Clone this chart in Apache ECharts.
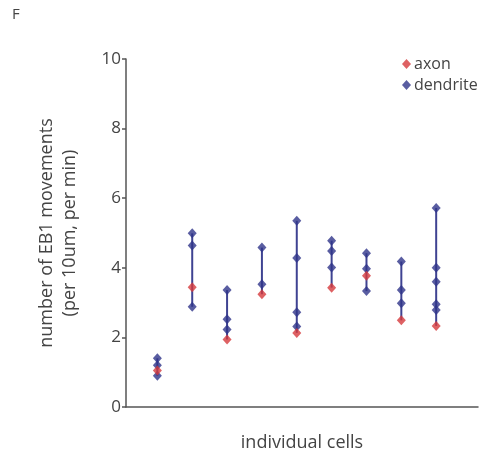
<!DOCTYPE html>
<html>
<head>
<meta charset="utf-8">
<style>
  html, body { margin: 0; padding: 0; background: #fff; }
  #chart { width: 480px; height: 459px; }
</style>
<script src="https://cdn.jsdelivr.net/npm/echarts@6/dist/echarts.min.js"></script>
</head>
<body>
<div id="chart"></div>
<script>
// cells 1..9, values
var cells = [1, 2, 3, 4, 5, 6, 7, 8, 9];
var dendrite = [
    [1.4, 1.2, 0.9],
    [4.99, 4.64, 2.88],
    [3.36, 2.52, 2.23],
    [4.58, 3.53],
    [5.35, 4.28, 2.72, 2.31],
    [4.78, 4.48, 4.01],
    [4.42, 3.97, 3.33],
    [4.18, 3.36, 2.98],
    [5.72, 4.0, 3.6, 2.95, 2.79]
];
var axon = [1.05, 3.44, 1.94, 3.24, 2.13, 3.43, 3.77, 2.49, 2.33];
var yTicks = [0, 2, 4, 6, 8, 10];

var red = '#d63a3c', navy = '#30348a', lineCol = '#3f4392';
var font = 'Open Sans';

var dendPts = [], axonPts = [], ranges = [];
cells.forEach(function (c, i) {
    dendrite[i].forEach(function (v) { dendPts.push([c, v]); });
    axonPts.push([c, axon[i]]);
    var all = dendrite[i].concat([axon[i]]);
    ranges.push([c, Math.min.apply(null, all), Math.max.apply(null, all)]);
});

var chart = echarts.init(document.getElementById('chart'));
chart.setOption({
    animation: false,
    grid: {left: 126, right: 2, top: 59, bottom: 52},
    graphic: [{
        type: 'text', left: 12, top: 7,
        style: {text: 'F', font: '15px "' + font + '"', fill: '#444'}
    }],
    legend: {
        orient: 'vertical', left: 397, top: 51, itemGap: 5,
        itemWidth: 9, itemHeight: 10,
        textStyle: {fontFamily: font, fontSize: 16, color: '#444', padding: [0, 0, 0, -2]},
        data: [
            {name: 'axon', icon: 'diamond'},
            {name: 'dendrite', icon: 'diamond'}
        ]
    },
    xAxis: {
        type: 'value', min: 0.1, max: 10.2,
        name: 'individual cells', nameLocation: 'middle', nameGap: 27,
        nameTextStyle: {fontFamily: font, fontSize: 18, color: '#444'},
        axisLine: {lineStyle: {color: '#555', width: 1.5}},
        axisTick: {show: false}, axisLabel: {show: false}, splitLine: {show: false}
    },
    yAxis: {
        type: 'value', min: yTicks[0], max: yTicks[yTicks.length - 1], interval: 2,
        name: 'number of EB1 movements\n(per 10um, per min)',
        nameLocation: 'middle', nameGap: 45, nameRotate: 90,
        nameTextStyle: {fontFamily: font, fontSize: 18, color: '#444', lineHeight: 23},
        axisLine: {show: true, lineStyle: {color: '#555', width: 1.5}},
        axisTick: {show: true, length: 4, lineStyle: {color: '#555', width: 1.5}},
        axisLabel: {fontFamily: font, fontSize: 17, color: '#444', margin: 5},
        splitLine: {show: false}
    },
    series: [{
        type: 'custom',
        data: ranges,
        silent: true,
        z: 1,
        renderItem: function (params, api) {
            var p1 = api.coord([api.value(0), api.value(1)]);
            var p2 = api.coord([api.value(0), api.value(2)]);
            return {
                type: 'line',
                shape: {x1: p1[0], y1: p1[1], x2: p2[0], y2: p2[1]},
                style: {stroke: lineCol, lineWidth: 2}
            };
        }
    }, {
        name: 'dendrite', type: 'scatter', symbol: 'diamond', symbolSize: [9, 10],
        itemStyle: {color: navy}, data: dendPts, z: 3
    }, {
        name: 'axon', type: 'scatter', symbol: 'diamond', symbolSize: [9, 10],
        itemStyle: {color: red}, data: axonPts, z: 4
    }]
});
</script>
</body>
</html>
